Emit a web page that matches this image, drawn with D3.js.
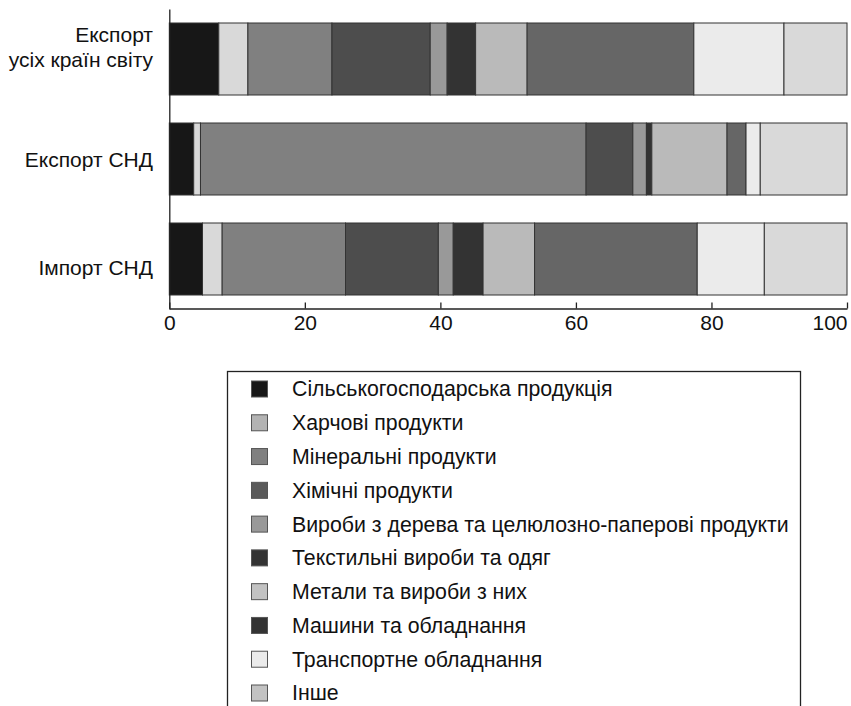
<!DOCTYPE html>
<html>
<head>
<meta charset="utf-8">
<script src="https://cdn.jsdelivr.net/npm/d3@7.9.0/dist/d3.min.js"></script>
<style>
  body { margin: 0; background: #fff; }
  svg { display: block; font-family: "Liberation Sans", Arial, sans-serif; }
</style>
</head>
<body>
<div id="chart"></div>
<script>
// Data

const groups = ['Експорт усіх країн світу', 'Експорт СНД', 'Імпорт СНД'];
const groupLines = [['Експорт', 'усіх країн світу'], ['Експорт СНД'], ['Імпорт СНД']];

const categories = [
  'Сільськогосподарська продукція',
  'Харчові продукти',
  'Мінеральні продукти',
  'Хімічні продукти',
  'Вироби з дерева та целюлозно-паперові продукти',
  'Текстильні вироби та одяг',
  'Метали та вироби з них',
  'Машини та обладнання',
  'Транспортне обладнання',
  'Інше'
];

// shares (%) per group, in category order
const worldExport = [7.3, 4.3, 12.4, 14.5, 2.5, 4.2, 7.6, 24.6, 13.3, 9.3];
const cisExport = [3.6, 1.0, 56.9, 6.9, 2.0, 0.8, 11.1, 2.8, 2.1, 12.8];
const cisImport = [4.9, 2.9, 18.2, 13.7, 2.2, 4.4, 7.6, 24.0, 9.9, 12.2];

const xTicks = [0, 20, 40, 60, 80, 100];

// greys used in bars and (slightly different) in legend
const barColors = ['#171717', '#d9d9d9', '#808080', '#4d4d4d', '#999999',
  '#333333', '#bababa', '#666666', '#ebebeb', '#d9d9d9'];
const legendColors = ['#171717', '#b3b3b3', '#808080', '#5a5a5a', '#999999',
  '#333333', '#c2c2c2', '#333333', '#ebebeb', '#c2c2c2'];


// Build stacked rows
const seriesByGroup = [worldExport, cisExport, cisImport];
const rows = groups.map((g, gi) => {
  let acc = 0;
  return seriesByGroup[gi].map((v, ci) => {
    const seg = { group: g, cat: ci, x0: acc, x1: acc + v };
    acc += v;
    return seg;
  });
});


const width = 851;
const height = 706;

const svg = d3.select('#chart')
  .append('svg')
  .attr('width', width)
  .attr('height', height);

const xScale = d3.scaleLinear()
  .domain([0, 100])
  .range([169.3, 847]);

const yScale = d3.scaleBand()
  .domain(groups)
  .range([9, 309])
  .paddingInner(0.28)
  .paddingOuter(0.14);

// bars
svg.selectAll('.row')
  .data(rows)
  .enter()
  .append('g')
  .attr('class', 'row')
  .selectAll('rect')
  .data(d => d)
  .enter()
  .append('rect')
  .attr('x', d => xScale(d.x0))
  .attr('y', d => yScale(d.group))
  .attr('width', d => xScale(d.x1) - xScale(d.x0))
  .attr('height', yScale.bandwidth())
  .attr('fill', d => barColors[d.cat])
  .attr('stroke', '#333')
  .attr('stroke-width', 1);

// x axis (ticks pointing up)
const xAxis = svg.append('g')
  .attr('transform', 'translate(0,308.5)')
  .call(d3.axisBottom(xScale).tickValues(xTicks).tickSizeInner(-6).tickSizeOuter(0).tickPadding(7));
xAxis.select('.domain').attr('stroke', '#222').attr('stroke-width', 1.3);
xAxis.selectAll('.tick line').attr('stroke', '#222').attr('stroke-width', 1.3);
xAxis.selectAll('.tick text')
  .style('font-size', '21px')
  .style('font-family', '"Liberation Sans", Arial, sans-serif')
  .attr('fill', '#111')
  .attr('text-anchor', d => d === 100 ? 'end' : 'middle');

// y axis line only
const yAxis = svg.append('g')
  .attr('transform', 'translate(169.3,0)')
  .call(d3.axisLeft(yScale).tickSize(0).tickFormat(''));
yAxis.select('.domain').attr('stroke', '#222').attr('stroke-width', 1.3);

// category labels
const labelOffsets = [-12, 1, 9];
svg.selectAll('.ylabel')
  .data(groups)
  .enter()
  .append('text')
  .attr('class', 'ylabel')
  .attr('text-anchor', 'end')
  .attr('fill', '#111')
  .style('font-size', '21px')
  .each(function(g, i) {
    const lines = groupLines[i];
    const cy = yScale(g) + yScale.bandwidth() / 2 + labelOffsets[i];
    const t = d3.select(this);
    lines.forEach((ln, li) => {
      t.append('tspan')
        .attr('x', 153)
        .attr('y', cy + (li - (lines.length - 1) / 2) * 25)
        .attr('dy', '0.35em')
        .text(ln);
    });
  });

// legend
const legend = svg.append('g').attr('class', 'legend');
legend.append('rect')
  .attr('x', 227.5)
  .attr('y', 371.5)
  .attr('width', 573)
  .attr('height', 360)
  .attr('fill', 'none')
  .attr('stroke', '#222')
  .attr('stroke-width', 1.3);

const legendY = d3.scalePoint()
  .domain(categories)
  .range([389, 693]);

const items = legend.selectAll('.item')
  .data(categories)
  .enter()
  .append('g')
  .attr('class', 'item')
  .attr('transform', d => `translate(0,${legendY(d)})`);

items.append('rect')
  .attr('x', 251.5)
  .attr('y', -8)
  .attr('width', 16)
  .attr('height', 16)
  .attr('fill', (d, i) => legendColors[i])
  .attr('stroke', '#555')
  .attr('stroke-width', 1);

items.append('text')
  .attr('x', 292)
  .attr('dy', '0.35em')
  .attr('fill', '#111')
  .style('font-size', '21.3px')
  .text(d => d);
</script>
</body>
</html>
